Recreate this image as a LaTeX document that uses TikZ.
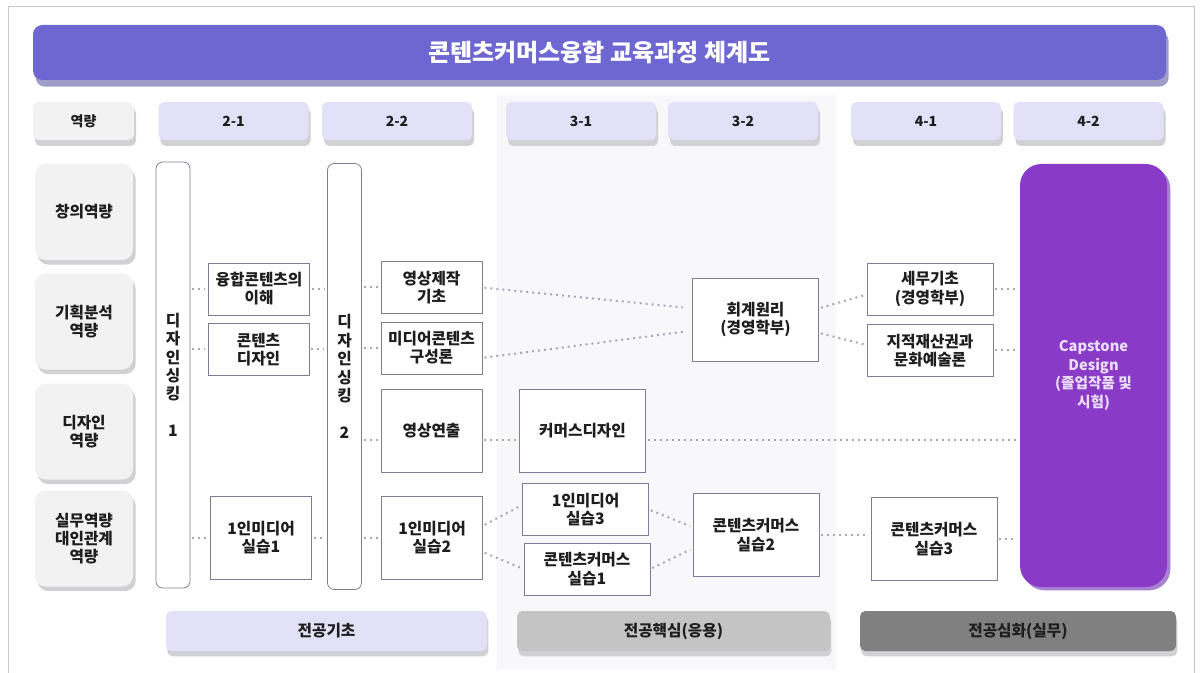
\documentclass[tikz,border=0pt]{standalone}
\usepackage{fontspec}
\setmainfont{Noto Sans CJK KR}
\usepackage{tikz}
\usetikzlibrary{positioning, shadows, calc}
\definecolor{titlepurple}{RGB}{110, 103, 209}
\definecolor{titleshade}{RGB}{160, 156, 200}
\definecolor{semlav}{RGB}{227, 225, 247}
\definecolor{compgray}{RGB}{242, 242, 242}
\definecolor{shadegray}{RGB}{208, 208, 213}
\definecolor{panelgray}{RGB}{248, 248, 250}
\definecolor{boxline}{RGB}{125, 125, 155}
\definecolor{dotgray}{RGB}{168, 168, 186}
\definecolor{cappurple}{RGB}{137, 58, 198}
\definecolor{capshade}{RGB}{168, 130, 210}
\definecolor{captext}{RGB}{236, 222, 250}
\definecolor{coregray}{RGB}{196, 196, 196}
\definecolor{advgray}{RGB}{128, 128, 128}
\definecolor{framegray}{RGB}{200, 200, 200}
\definecolor{inkgray}{RGB}{30, 30, 30}

\begin{document}
\begin{tikzpicture}[x=0.75pt, y=-0.75pt, text=inkgray, font=\bfseries\fontsize{11.8}{13.6}\selectfont,
    course/.style={draw=boxline, fill=white, line width=0.6pt, align=center, inner sep=0pt},
    narrowbox/.style={minimum width=75.75pt}, widebox/.style={minimum width=94.5pt},
    shortbox/.style={minimum height=39pt}, tallbox/.style={minimum height=62.25pt},
    semhead/.style={fill=semlav, rounded corners=4pt, minimum width=112.5pt, minimum height=28.5pt,
      font=\bfseries\fontsize{10.5}{12}\selectfont,
      drop shadow={shadow xshift=1.5pt, shadow yshift=-4.5pt, fill=shadegray, opacity=1}},
    compbox/.style={fill=compgray, rounded corners=8pt, minimum width=73.5pt, minimum height=72pt, align=center,
      drop shadow={shadow xshift=2pt, shadow yshift=-3.5pt, fill=shadegray, opacity=1}},
    thinkbar/.style={draw=boxline, fill=white, line width=0.6pt, rounded corners=5pt, minimum width=25.5pt,
      minimum height=319.5pt, inner sep=0pt, align=center, font=\bfseries\fontsize{11.8}{13.8}\selectfont},
    trackbar/.style={rounded corners=4pt, minimum height=30pt,
      drop shadow={shadow xshift=1pt, shadow yshift=-4pt, fill=shadegray, opacity=1}},
    link/.style={draw=dotgray, line width=1.5pt, dash pattern=on 1.5pt off 3pt, shorten <=1.5pt, shorten >=2pt}]
  \useasboundingbox (0,0) rectangle (1202,673);
  \draw[framegray, line width=0.6pt] (8,6) rectangle (1194,700);
  \fill[panelgray] (497,95) rectangle (836,670);

  % title
  \node[fill=titlepurple, text=white, rounded corners=7pt, minimum width=849.75pt, minimum height=41.25pt,
    font=\bfseries\fontsize{18}{21}\selectfont,
    drop shadow={shadow xshift=2pt, shadow yshift=-5pt, fill=titleshade, opacity=1}] (title) at (599.5,52.5) {콘텐츠커머스융합 교육과정 체계도};

  % header row
  \node[semhead, fill=compgray, minimum width=75.75pt] (hcomp) at (83.5,121) {역량};
  \node[semhead] (s21) at (233.5,121) {2-1};
  \node[semhead] (s22) at (397,121) {2-2};
  \node[semhead] (s31) at (581,121) {3-1};
  \node[semhead] (s32) at (743,121) {3-2};
  \node[semhead] (s41) at (926,121) {4-1};
  \node[semhead] (s42) at (1088.5,121) {4-2};

  % competencies
  \node[compbox] (c1) at (84,212) {창의역량};
  \node[compbox] (c2) at (84,321.5) {기획분석\\역량};
  \node[compbox] (c3) at (84,431.5) {디자인\\역량};
  \node[compbox] (c4) at (84,538.5) {실무역량\\대인관계\\역량};

  % design thinking bars
  \node[thinkbar] (dt1) at (173,375) {디\\자\\인\\싱\\킹\\[14pt]1};
  \node[thinkbar] (dt2) at (344.5,376.5) {디\\자\\인\\싱\\킹\\[14pt]2};

  % courses
  \node[course, narrowbox, shortbox] (k_ung) at (259,289) {융합콘텐츠의\\이해};
  \node[course, narrowbox, shortbox] (k_cd) at (258.5,349.5) {콘텐츠\\디자인};
  \node[course, narrowbox, tallbox] (k_m1) at (261,537.5) {1인미디어\\실습1};
  \node[course, narrowbox, shortbox] (k_yj) at (431.5,287.5) {영상제작\\기초};
  \node[course, narrowbox, shortbox] (k_mc) at (431.5,348) {미디어콘텐츠\\구성론};
  \node[course, narrowbox, tallbox] (k_yy) at (431.5,431) {영상연출};
  \node[course, narrowbox, tallbox] (k_m2) at (432,537.5) {1인미디어\\실습2};
  \node[course, widebox, tallbox] (k_cm) at (582.5,431) {커머스디자인};
  \node[course, widebox, shortbox] (k_m3) at (585.5,509.5) {1인미디어\\실습3};
  \node[course, widebox, shortbox] (k_cc1) at (587,569) {콘텐츠커머스\\실습1};
  \node[course, widebox, tallbox] (k_hg) at (755.5,319.5) {회계원리\\(경영학부)};
  \node[course, widebox, tallbox] (k_cc2) at (756,535) {콘텐츠커머스\\실습2};
  \node[course, widebox, shortbox] (k_sm) at (930,289) {세무기초\\(경영학부)};
  \node[course, widebox, shortbox] (k_ip) at (930,350.5) {지적재산권과\\문화예술론};
  \node[course, widebox, tallbox] (k_cc3) at (934,539) {콘텐츠커머스\\실습3};

  % capstone
  \node[fill=cappurple, text=captext, rounded corners=16pt, minimum width=110.25pt, minimum height=317.25pt,
    align=center, font=\bfseries\fontsize{11}{14}\selectfont,
    drop shadow={shadow xshift=2.5pt, shadow yshift=-2.5pt, fill=capshade, opacity=1}] (cap) at (1093.5,375.5)
    {Capstone\\Design\\(졸업작품 및\\시험)};

  % tracks
  \node[trackbar, fill=semlav, minimum width=240.75pt] (b1) at (326.5,631) {전공기초};
  \node[trackbar, fill=coregray, minimum width=234.75pt] (b2) at (673.5,631) {전공핵심(응용)};
  \node[trackbar, fill=advgray, minimum width=237pt] (b3) at (1018,631) {전공심화(실무)};

  % links
  \draw[link] (dt1.east |- k_ung) -- (k_ung.west);
  \draw[link] (dt1.east |- k_cd) -- (k_cd.west);
  \draw[link] (dt1.east |- k_m1) -- (k_m1.west);
  \draw[link] (k_ung.east) -- (dt2.west |- k_ung);
  \draw[link] (k_cd.east) -- (dt2.west |- k_cd);
  \draw[link] (k_m1.east) -- (dt2.west |- k_m1);
  \draw[link] (dt2.east |- k_yj) -- (k_yj.west);
  \draw[link] (dt2.east |- k_mc) -- (k_mc.west);
  \draw[link] (dt2.east |- k_yy.-170) -- (k_yy.-170);
  \draw[link] (dt2.east |- k_m2) -- (k_m2.west);
  \draw[link, shorten >=7pt] (k_yj.east) -- (k_hg.170);
  \draw[link, shorten >=7pt] (k_mc.-11) -- (k_hg.190);
  \draw[link] (k_yy.-10) -- (k_cm.west |- k_yy.-10);
  \draw[link] (k_cm.-8) -- (cap.west |- k_cm.-8);
  \draw[link] (k_m2.13) -- (k_m3.176);
  \draw[link] (k_m2.-16) -- (k_cc1.west);
  \draw[link] (k_m3.east) -- (k_cc2.173);
  \draw[link] (k_cc1.east) -- (k_cc2.192);
  \draw[link] (k_hg.10) -- (k_sm.185);
  \draw[link] (k_hg.-12) -- (k_ip.175);
  \draw[link] (k_sm.east) -- (cap.west |- k_sm.east);
  \draw[link] (k_ip.east) -- (cap.west |- k_ip.east);
  \draw[link] (k_cc2.east) -- (k_cc3.west |- k_cc2.east);
  \draw[link] (k_cc3.east) -- (cap.west |- k_cc3.east);
\end{tikzpicture}
\end{document}
